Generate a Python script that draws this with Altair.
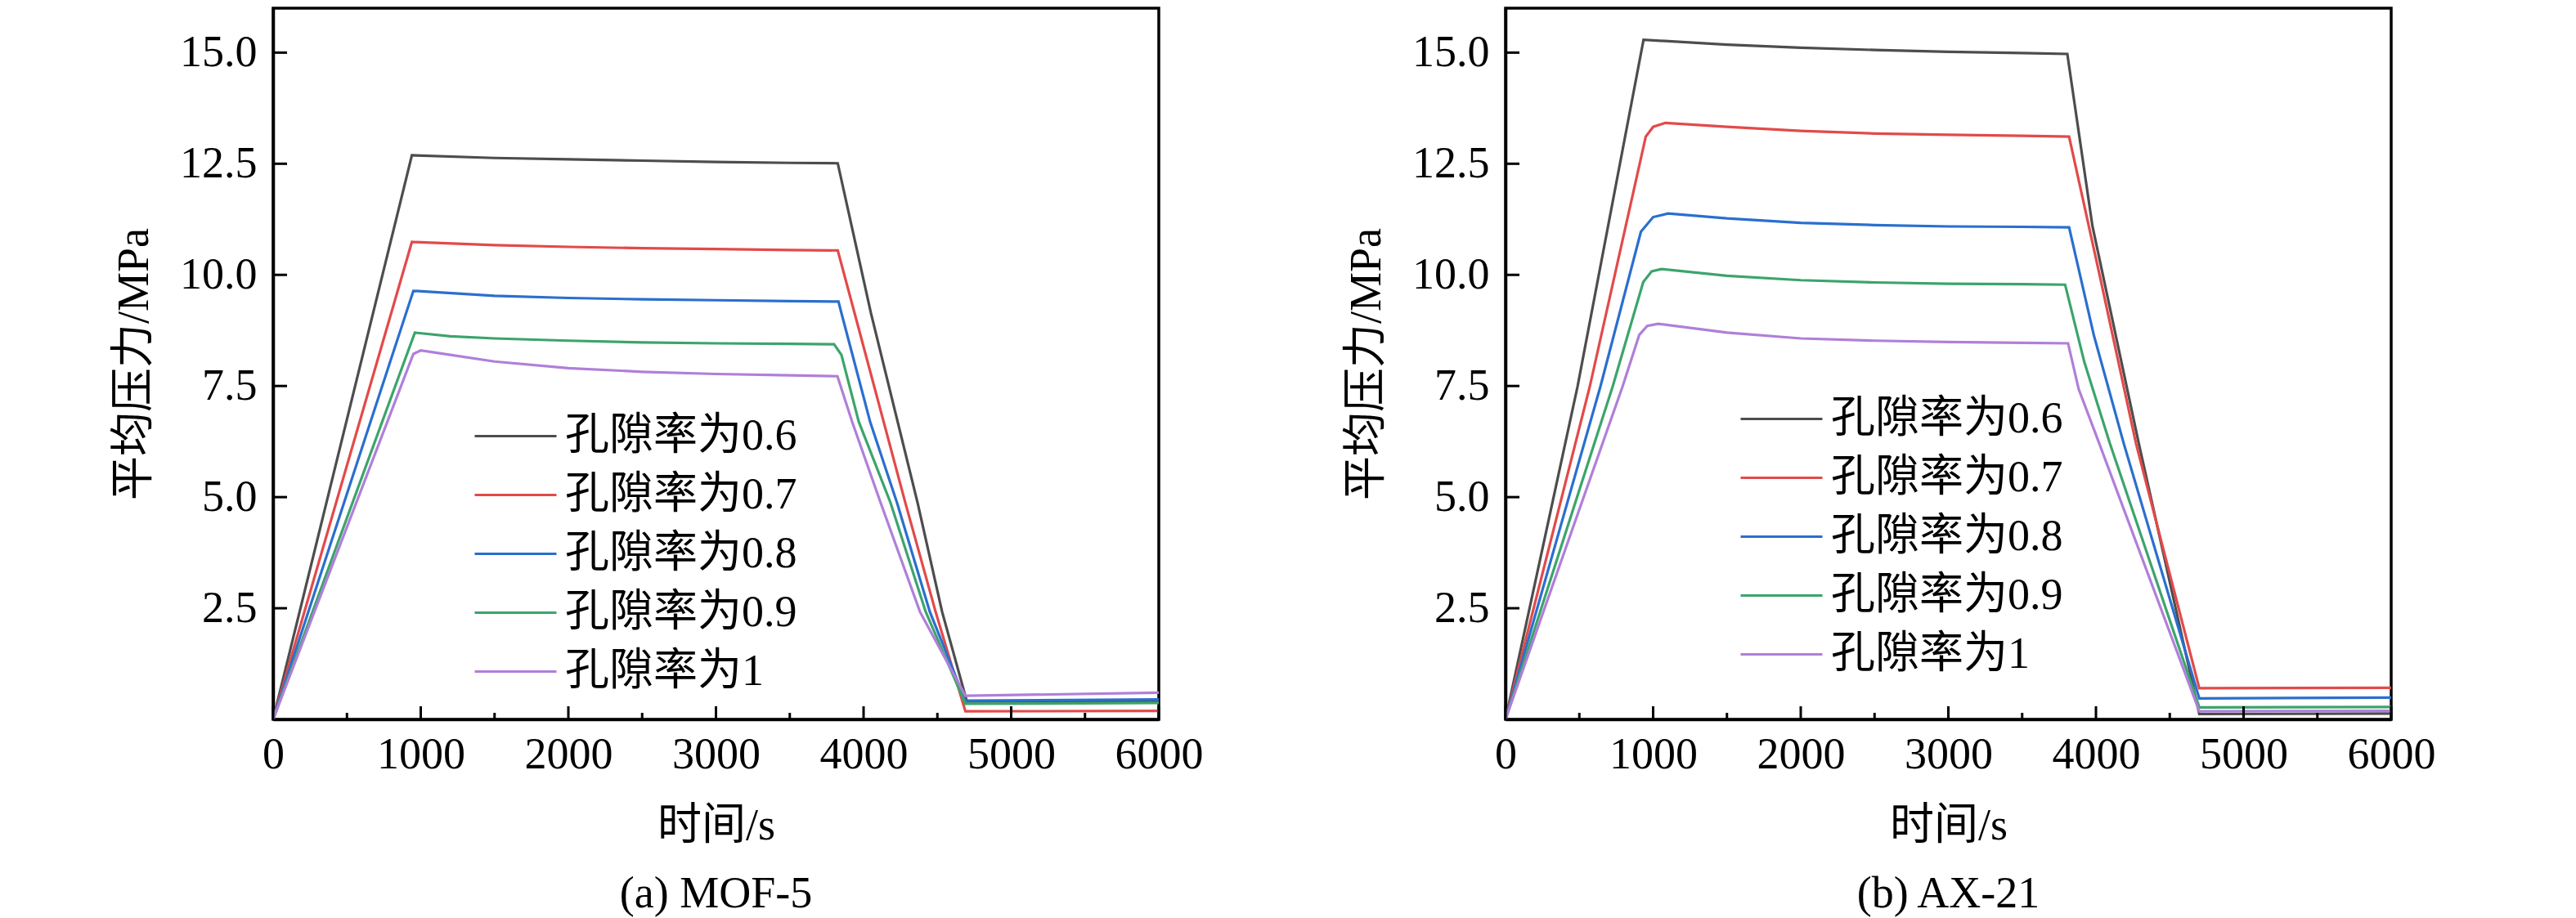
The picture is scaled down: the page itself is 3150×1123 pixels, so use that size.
import altair as alt
import pandas as pd

# ---------------- data ----------------
series_names = ["孔隙率为0.6", "孔隙率为0.7", "孔隙率为0.8", "孔隙率为0.9", "孔隙率为1"]
series_colors = ["#4d4d4d", "#e24a4a", "#2a6fce", "#3ca46c", "#b07fd9"]

x_ticks_major = [0, 1000, 2000, 3000, 4000, 5000, 6000]
x_ticks_minor = [500, 1500, 2500, 3500, 4500, 5500]
y_ticks = [2.5, 5.0, 7.5, 10.0, 12.5, 15.0]

# (a) MOF-5
mof_t_06 = [0, 940, 1500, 2000, 2500, 3000, 3500, 3825, 4050, 4366, 4532, 4700, 5500, 6000]
mof_p_06 = [0, 12.69, 12.63, 12.60, 12.57, 12.54, 12.52, 12.51, 9.14, 4.87, 2.42, 0.40, 0.41, 0.41]
mof_t_07 = [0, 940, 1500, 2000, 2500, 3000, 3500, 3825, 3939, 4283, 4488, 4690, 6000]
mof_p_07 = [0, 10.74, 10.67, 10.63, 10.60, 10.58, 10.56, 10.55, 9.14, 4.87, 2.42, 0.18, 0.19]
mof_t_08 = [0, 950, 1500, 2000, 2500, 3000, 3500, 3830, 3850, 4044, 4227, 4449, 4690, 6000]
mof_p_08 = [0, 9.64, 9.53, 9.48, 9.45, 9.43, 9.41, 9.40, 9.14, 6.70, 4.87, 2.42, 0.42, 0.45]
mof_t_09 = [0, 960, 1200, 1500, 2000, 2500, 3000, 3500, 3800, 3850, 3967, 4183, 4421, 4690, 6000]
mof_p_09 = [0, 8.70, 8.62, 8.57, 8.52, 8.48, 8.46, 8.45, 8.44, 8.20, 6.70, 4.87, 2.42, 0.35, 0.37]
mof_t_10 = [0, 950, 1000, 1100, 1500, 2000, 2500, 3000, 3500, 3823, 3922, 4116, 4382, 4690, 6000]
mof_p_10 = [0, 8.22, 8.30, 8.25, 8.05, 7.90, 7.82, 7.77, 7.74, 7.72, 6.70, 4.87, 2.42, 0.53, 0.60]

# (b) AX-21
ax_t_06 = [0, 488, 935, 1500, 2000, 2500, 3000, 3500, 3806, 3976, 4290, 4700, 6000]
ax_p_06 = [0, 7.49, 15.29, 15.18, 15.11, 15.06, 15.02, 14.99, 14.97, 11.10, 6.21, 0.12, 0.13]
ax_t_07 = [0, 571, 950, 1000, 1083, 1500, 2000, 2500, 3000, 3500, 3818, 4033, 4271, 4700, 6000]
ax_p_07 = [0, 7.49, 13.11, 13.33, 13.42, 13.33, 13.24, 13.18, 13.15, 13.13, 13.11, 9.87, 6.21, 0.70, 0.71]
ax_t_08 = [0, 643, 917, 1000, 1100, 1500, 2000, 2500, 3000, 3500, 3818, 3985, 4188, 4700, 6000]
ax_p_08 = [0, 7.49, 10.97, 11.30, 11.38, 11.27, 11.17, 11.12, 11.09, 11.08, 11.07, 8.65, 6.21, 0.47, 0.49]
ax_t_09 = [0, 726, 933, 990, 1056, 1500, 2000, 2500, 3000, 3500, 3791, 3921, 4094, 4700, 6000]
ax_p_09 = [0, 7.49, 9.84, 10.08, 10.13, 9.98, 9.88, 9.83, 9.80, 9.79, 9.78, 8.04, 6.21, 0.27, 0.28]
ax_t_10 = [0, 793, 906, 960, 1033, 1500, 2000, 2500, 3000, 3500, 3811, 3883, 4022, 4700, 6000]
ax_p_10 = [0, 7.49, 8.65, 8.85, 8.90, 8.70, 8.57, 8.52, 8.49, 8.47, 8.46, 7.43, 6.21, 0.18, 0.19]

caption_a = "(a) MOF-5"
caption_b = "(b) AX-21"
x_title = "时间/s"
y_title = "平均压力/MPa"

# ---------------- styles ----------------
FONT = "'Liberation Serif', 'Noto Sans CJK SC'"
FS = 54
W, H = 1083, 870


def build_df(pairs):
    rows = []
    for name, ts, ps in pairs:
        for t, p in zip(ts, ps):
            rows.append({"t": t, "p": p, "series": name})
    return pd.DataFrame(rows)


mof_df = build_df([
    (series_names[0], mof_t_06, mof_p_06),
    (series_names[1], mof_t_07, mof_p_07),
    (series_names[2], mof_t_08, mof_p_08),
    (series_names[3], mof_t_09, mof_p_09),
    (series_names[4], mof_t_10, mof_p_10),
])
ax_df = build_df([
    (series_names[0], ax_t_06, ax_p_06),
    (series_names[1], ax_t_07, ax_p_07),
    (series_names[2], ax_t_08, ax_p_08),
    (series_names[3], ax_t_09, ax_p_09),
    (series_names[4], ax_t_10, ax_p_10),
])


def panel(df, caption, legend_x, legend_y):
    x_axis = alt.Axis(values=x_ticks_major, format="d", ticks=False, tickSize=0,
                      labelPadding=16, labelFlush=False, grid=False,
                      domainColor="black", domainWidth=3.5,
                      minExtent=75, maxExtent=75, titlePadding=28,
                      labelFont=FONT, labelFontSize=FS, labelColor="black",
                      titleFont=FONT, titleFontSize=FS, titleFontWeight="normal",
                      titleColor="black")
    y_axis = alt.Axis(values=y_ticks, format=".1f", ticks=False, tickSize=0,
                      labelPadding=20, grid=False,
                      domainColor="black", domainWidth=3.5,
                      minExtent=115, maxExtent=115, titlePadding=28,
                      labelFont=FONT, labelFontSize=FS, labelColor="black",
                      titleFont=FONT, titleFontSize=FS, titleFontWeight="normal",
                      titleColor="black")
    xenc = alt.X("t:Q", title=x_title,
                 scale=alt.Scale(domain=[0, 6000], nice=False, zero=False),
                 axis=x_axis)
    yenc = alt.Y("p:Q", title=y_title,
                 scale=alt.Scale(domain=[0, 16], nice=False),
                 axis=y_axis)

    lines = alt.Chart(df).mark_line(strokeWidth=3.2, clip=True).encode(
        x=xenc, y=yenc,
        color=alt.Color("series:N",
                        scale=alt.Scale(domain=series_names, range=series_colors),
                        legend=alt.Legend(title=None, orient="none",
                                          legendX=legend_x, legendY=legend_y,
                                          direction="vertical",
                                          symbolType="M-1.8,0H1.8",
                                          symbolSize=3086,
                                          symbolStrokeWidth=3.2,
                                          labelFont=FONT, labelFontSize=FS,
                                          labelColor="black", labelLimit=1000,
                                          labelOffset=31, rowPadding=15,
                                          padding=0)),
    )
    xt = alt.Chart(pd.DataFrame({"t": x_ticks_major})).mark_rule(
        color="black", strokeWidth=3).encode(
        x=xenc, y=alt.value(H), y2=alt.value(H - 16))
    xtm = alt.Chart(pd.DataFrame({"t": x_ticks_minor})).mark_rule(
        color="black", strokeWidth=3).encode(
        x=xenc, y=alt.value(H), y2=alt.value(H - 8))
    yt = alt.Chart(pd.DataFrame({"p": y_ticks})).mark_rule(
        color="black", strokeWidth=3).encode(
        y=yenc, x=alt.value(0), x2=alt.value(17))

    return alt.layer(lines, xt, xtm, yt).properties(
        width=W, height=H,
        title=alt.TitleParams(text=caption, orient="bottom", anchor="middle",
                              font=FONT, fontSize=FS, fontWeight="normal",
                              color="black", offset=30),
    )


left = panel(mof_df, caption_a, 267, 494)
right = panel(ax_df, caption_b, 308, 473)

chart = alt.hconcat(left, right, spacing=424, bounds="flush").resolve_scale(
    color="independent").resolve_legend(color="independent").configure_view(
    stroke="black", strokeWidth=3.5).properties(
    padding={"left": 127, "top": 0, "right": 0, "bottom": 0},
    background="white")

chart.save("out.html", embed_options={"renderer": "svg", "actions": False})
